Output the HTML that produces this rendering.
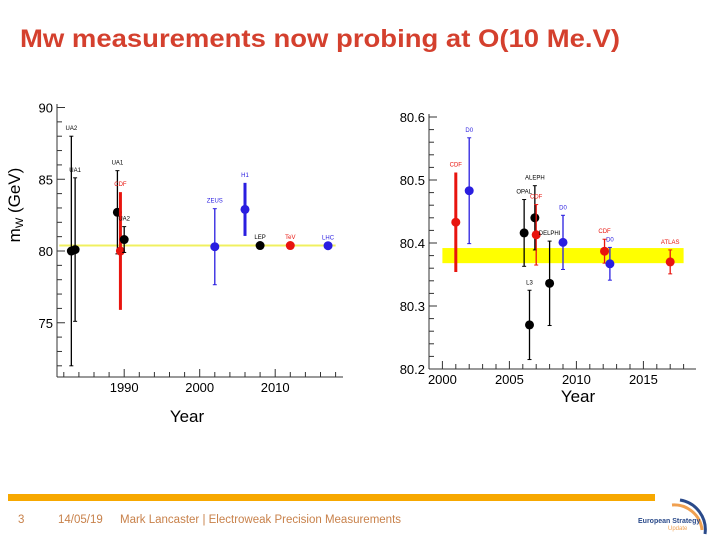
<!DOCTYPE html>
<html><head><meta charset="utf-8"><style>
body{margin:0;width:720px;height:540px;background:#fff;overflow:hidden;font-family:"Liberation Sans",sans-serif;}
svg{position:absolute;left:0;top:0}
</style></head><body>
<svg id="s" width="720" height="540">
<text x="20" y="47" font-size="25" font-weight="bold" fill="#d4402e" textLength="600" lengthAdjust="spacingAndGlyphs">Mw measurements now probing at O(10 Me.V)</text>
<rect x="8" y="494" width="647" height="7" fill="#f7a800"/>
<text x="18" y="523" font-size="11.5" fill="#c8814a">3</text>
<text x="58" y="523" font-size="11.5" fill="#c8814a">14/05/19</text>
<text x="120" y="523" font-size="11.5" fill="#c8814a">Mark Lancaster | Electroweak Precision Measurements</text>
<g>
<path d="M672 505 A 28 28 0 0 1 702 530" stroke="#f0a050" stroke-width="3" fill="none"/>
<path d="M680 500 A 30 30 0 0 1 705 534" stroke="#2a4a8a" stroke-width="3" fill="none"/>
<text x="638" y="523" font-size="7" fill="#2a4a8a" font-weight="bold">European Strategy</text>
<text x="668" y="530" font-size="6" fill="#f0a050">Update</text>
</g>
<g id="L"></g>
<g id="R"></g>
</svg>
<script>
const leftYears=[1983.0,1983.5,1989.1,1989.5,1990.0,2002,2006,2008,2012,2017];
const leftVals=[80.0,80.1,82.7,80.0,80.8,80.3,82.9,80.38,80.38,80.37];
const leftErrs=[8.0,5.0,2.9,4.1,0.9,2.65,1.85,0.03,0.03,0.02];
const leftLabels=["UA2","UA1","UA1","CDF","UA2","ZEUS","H1","LEP","TeV","LHC"];
const leftColors=["k","k","k","r","k","b","b","k","r","b"];
const leftThick=[0,0,0,1,0,0,1,0,0,0];
const leftXTicks=[1990,2000,2010];
const leftYTicks=[75,80,85,90];
const leftRef=80.385;
const rightYears=[2001,2002,2006.1,2006.9,2007,2006.5,2008,2009,2012.1,2012.5,2017];
const rightVals=[80.433,80.483,80.416,80.440,80.413,80.270,80.336,80.401,80.387,80.367,80.370];
const rightErrs=[0.079,0.084,0.053,0.051,0.048,0.055,0.067,0.043,0.019,0.026,0.019];
const rightLabels=["CDF","D0","OPAL","ALEPH","CDF","L3","DELPHI","D0","CDF","D0","ATLAS"];
const rightColors=["r","b","k","k","r","k","k","b","r","b","r"];
const rightThick=[1,0,0,0,0,0,0,0,0,0,0];
const rightXTicks=[2000,2005,2010,2015];
const rightYTicks=["80.2","80.3","80.4","80.5","80.6"];
const rightBand=[80.368,80.392];
const C={k:"#000",r:"#e8140e",b:"#2a1ee0"};
const NS="http://www.w3.org/2000/svg";
function mk(p,t,a,txt){const e=document.createElementNS(NS,t);for(const k in a)e.setAttribute(k,a[k]);if(txt!==undefined)e.textContent=txt;p.appendChild(e);return e;}
function chart(g,o){
 const X=v=>o.x0+(v-o.xa)*o.xs, Y=v=>o.y0-(v-o.ya)*o.ys;
 let e=mk(g,"line",{x1:o.x0,y1:o.yTop,x2:o.x0,y2:o.y0,stroke:"#333","stroke-width":1});
 
 e=mk(g,"line",{x1:o.x0,y1:o.y0,x2:o.xEnd,y2:o.y0,stroke:"#333","stroke-width":1});
 
 for(let v=o.minY0;Y(v)>=o.yTop-0.5;v+=o.minYStep){const big=o.isMajY(v);mk(g,"line",{x1:o.x0,y1:Y(v),x2:o.x0+(big?8:5),y2:Y(v),stroke:"#333"});}
 for(let v=o.minX0;X(v)<=o.xEnd;v+=o.minXStep){mk(g,"line",{x1:X(v),y1:o.y0,x2:X(v),y2:o.y0-(o.isMajX(v)?8:5),stroke:"#333"});}
 o.yt.forEach(t=>{e=mk(g,"text",{x:o.x0-4,y:Y(+t)+5,"font-size":13,"text-anchor":"end"},t);});
 o.xt.forEach(t=>{e=mk(g,"text",{x:X(t),y:o.y0+15,"font-size":13,"text-anchor":"middle"},t);});
 e=mk(g,"text",{x:o.xtx,y:o.xty,"font-size":17,"text-anchor":"middle"},"Year");
 
 if(o.band){e=mk(g,"rect",{x:X(o.bx[0]),y:Y(o.band[1]),width:X(o.bx[1])-X(o.bx[0]),height:Y(o.band[0])-Y(o.band[1]),fill:"#ffff00"});}
 if(o.ref!==undefined){e=mk(g,"line",{x1:X(o.bx[0]),y1:Y(o.ref),x2:X(o.bx[1]),y2:Y(o.ref),stroke:"#f0f060","stroke-width":2});}
 o.yr.forEach((yr,i)=>{
  const c=C[o.col[i]],x=X(yr),y1=Y(o.v[i]+o.er[i]),y2=Y(o.v[i]-o.er[i]),w=o.th[i]?3:1.3;
  const pg=mk(g,"g",{});
  mk(pg,"line",{x1:x,y1:y1,x2:x,y2:y2,stroke:c,"stroke-width":w});
  if(!o.th[i]){mk(pg,"line",{x1:x-2,y1:y1,x2:x+2,y2:y1,stroke:c});mk(pg,"line",{x1:x-2,y1:y2,x2:x+2,y2:y2,stroke:c});}
  mk(pg,"circle",{cx:x,cy:Y(o.v[i]),r:4.5,fill:c});
  mk(pg,"text",{x:x,y:y1-6,"font-size":6,fill:c,"text-anchor":"middle"},o.lab[i]);
 });
}
chart(document.getElementById("L"),{x0:57,y0:377,yTop:104,xEnd:343,xa:1981.1,xs:7.55,ya:71.22,ys:14.35,
 minY0:72,minYStep:1,isMajY:v=>v%5===0,minX0:1982,minXStep:2,isMajX:v=>v%10===0,
 yt:leftYTicks.map(String),xt:leftXTicks,xtx:187,xty:422,bx:[1981.4,2018],ref:leftRef,
 yr:leftYears,v:leftVals,er:leftErrs,lab:leftLabels,col:leftColors,th:leftThick});
chart(document.getElementById("R"),{x0:429,y0:369,yTop:114,xEnd:696,xa:1999.0,xs:13.4,ya:80.2,ys:630,
 minY0:80.2,minYStep:0.02,isMajY:v=>Math.abs(v*10-Math.round(v*10))<1e-6,minX0:2000,minXStep:1,isMajX:v=>v%5===0,
 yt:rightYTicks,xt:rightXTicks,xtx:578,xty:402,band:rightBand,bx:[2000,2018],
 yr:rightYears,v:rightVals,er:rightErrs,lab:rightLabels,col:rightColors,th:rightThick});
const yt=mk(document.getElementById("s"),"text",{transform:"translate(20,205) rotate(-90)","font-size":17,"text-anchor":"middle"});


yt.innerHTML='m<tspan font-size="11" dy="3">W</tspan><tspan dy="-3"> (GeV)</tspan>';
</script>
</body></html>
